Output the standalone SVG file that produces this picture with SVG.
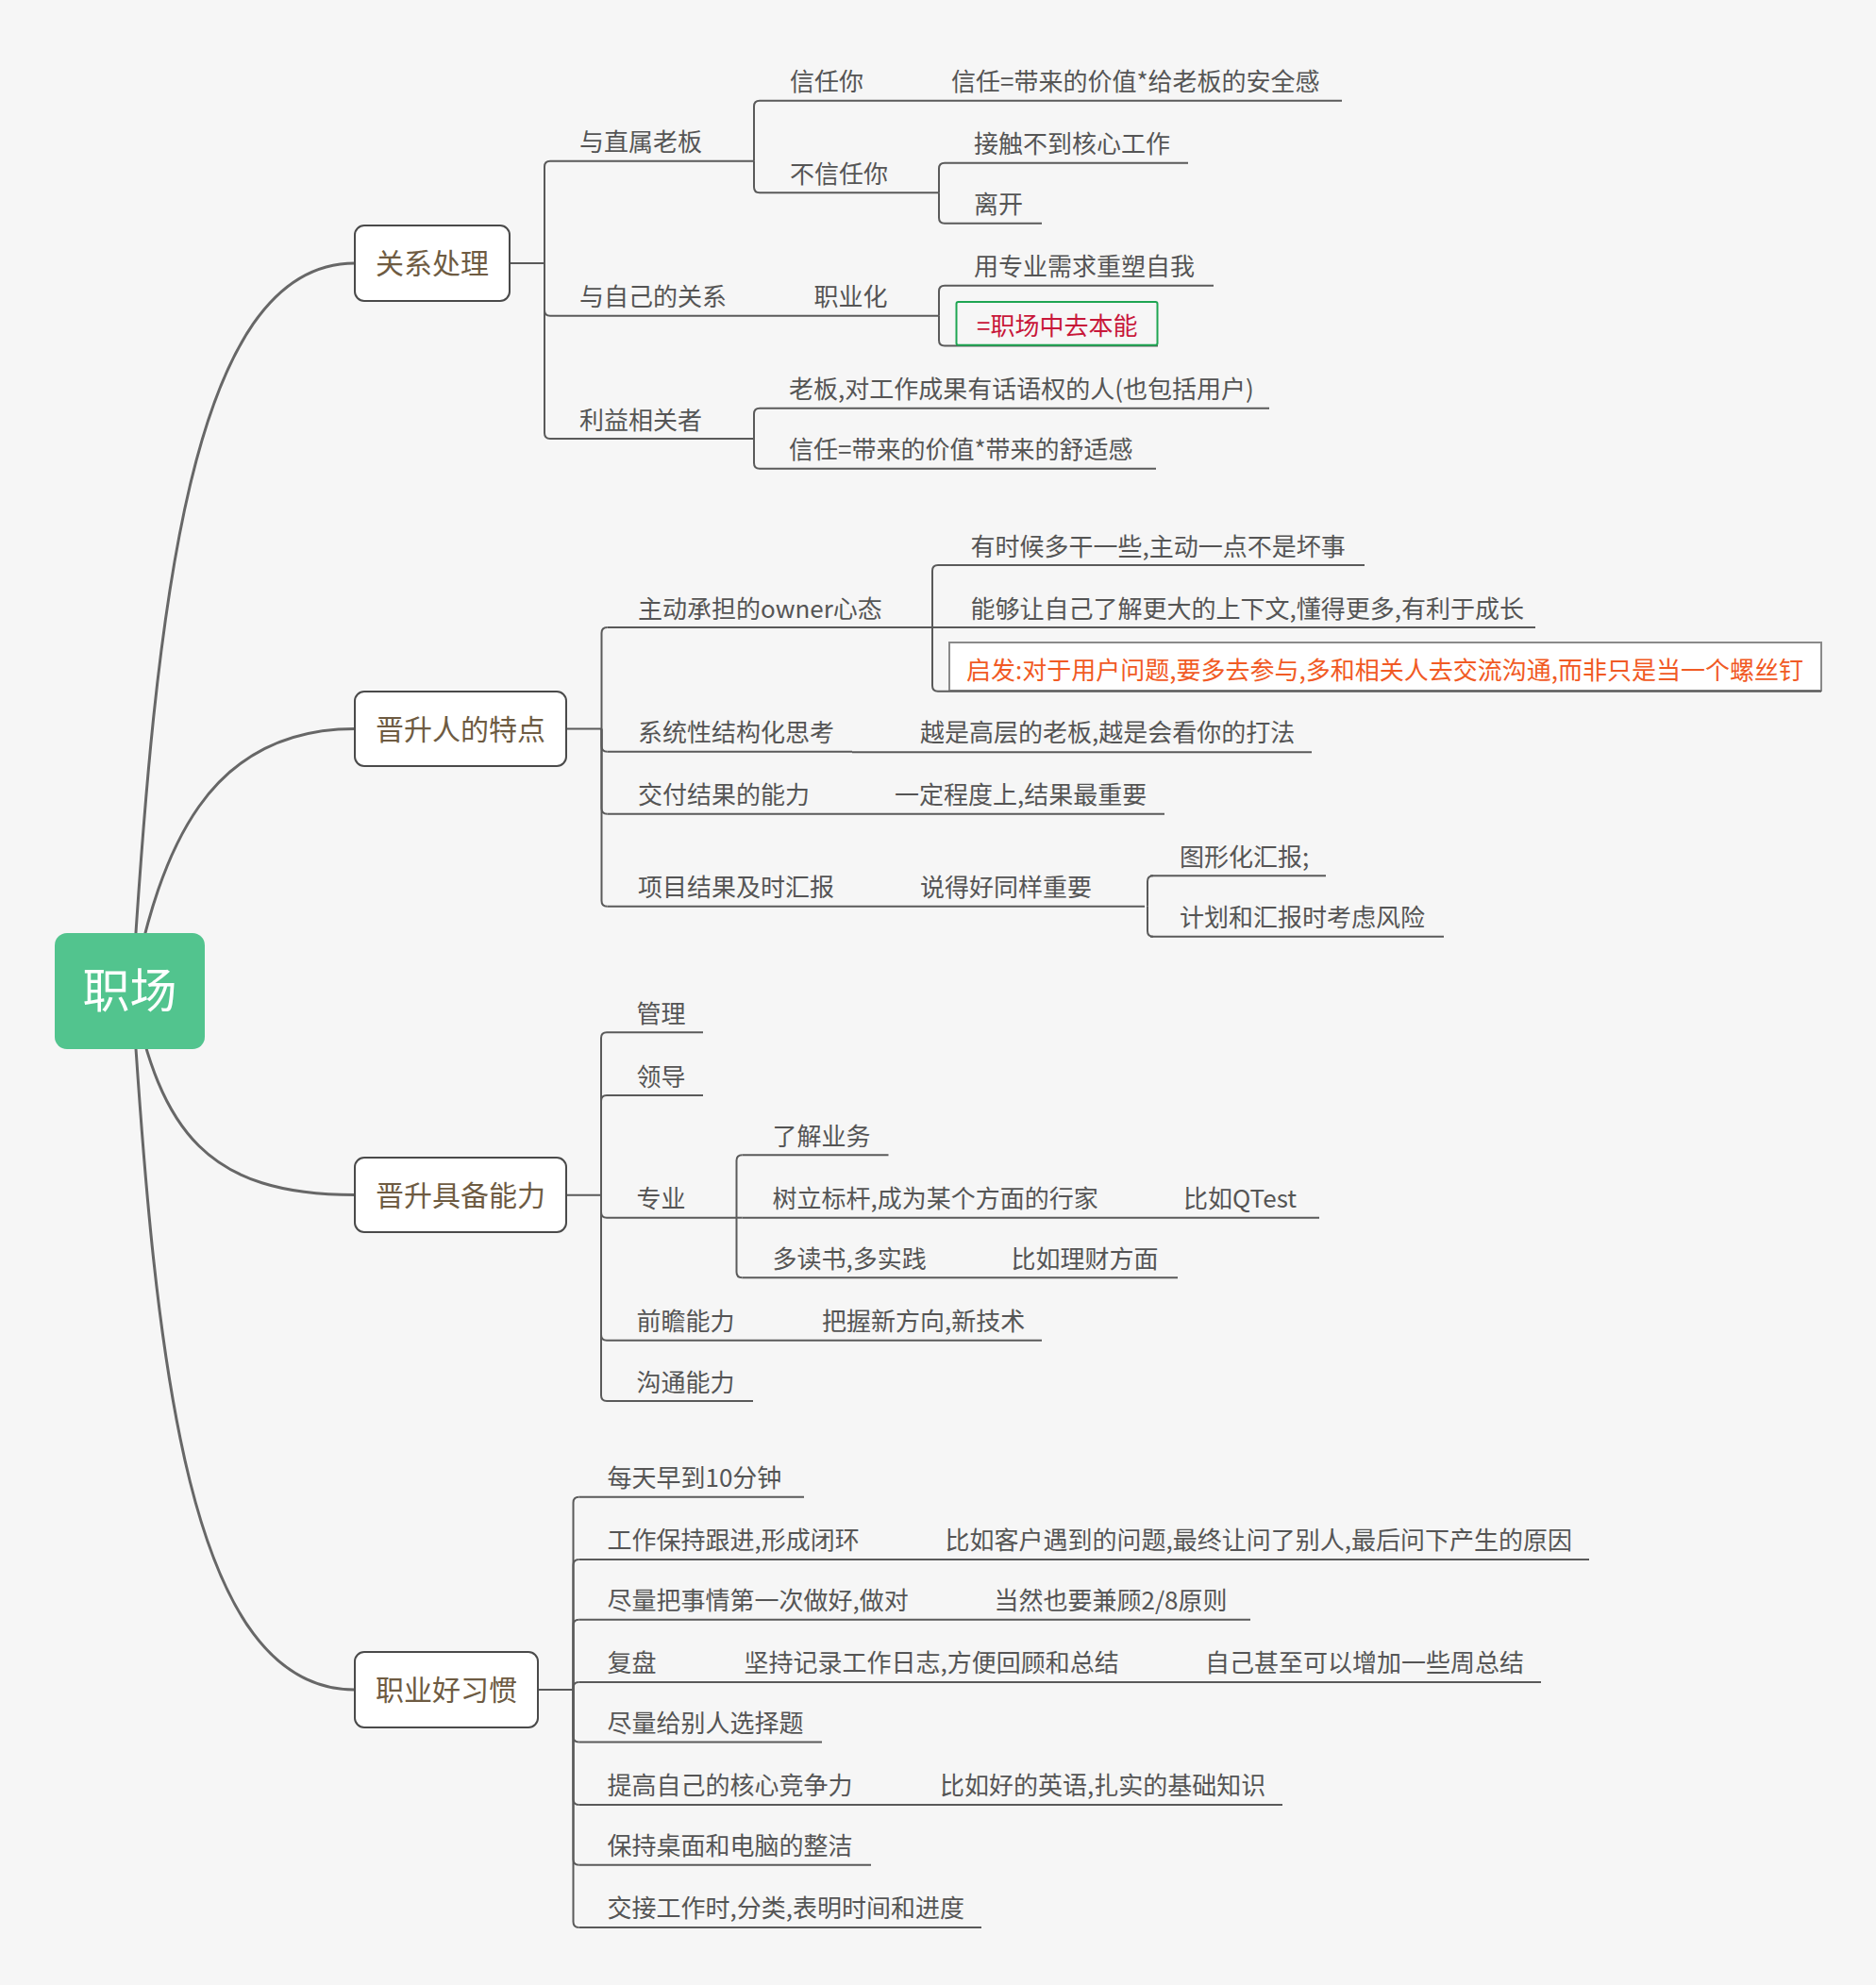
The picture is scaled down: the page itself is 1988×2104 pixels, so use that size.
<svg xmlns="http://www.w3.org/2000/svg" width="1988" height="2104" viewBox="0 0 1988 2104">
<style>
.t{font-family:"Noto Sans CJK SC","Liberation Sans",sans-serif;font-size:26px;fill:#555555}
.l1{font-family:"Noto Sans CJK SC","Liberation Sans",sans-serif;font-size:30px;fill:#6E5B42;text-anchor:middle}
.root{font-family:"Noto Sans CJK SC","Liberation Sans",sans-serif;font-size:50px;fill:#ffffff;text-anchor:middle}
.ul{stroke:#5a5a5a;stroke-width:2;fill:none}
.cn{stroke:#5a5a5a;stroke-width:2;fill:none}
.main{stroke:#676767;stroke-width:3;fill:none}
.box1{fill:#ffffff;stroke:#4a4a4a;stroke-width:2}
</style>
<rect x="0" y="0" width="1988" height="2104" fill="#F6F6F6"/>

<g id="connectors">
  <path class="main" d="M140,1050 C165,650 200,279 376,279"/>
  <path class="main" d="M140,1050 C170,900 220,772.5 376,772.5"/>
  <path class="main" d="M140,1050 C170,1200 220,1266.5 376,1266.5"/>
  <path class="main" d="M140,1050 C165,1450 200,1791 376,1791"/>

  <!-- B1 -->
  <path class="cn" d="M540,279 H577"/>
  <path class="cn" d="M577,279 V176.7 Q577,170.7 583,170.7"/>
  <path class="cn" d="M577,279 V328.7 Q577,334.7 583,334.7"/>
  <path class="cn" d="M577,279 V459 Q577,465 583,465"/>
  <path class="cn" d="M799,170.7 V112.7 Q799,106.7 805,106.7"/>
  <path class="cn" d="M799,170.7 V198.3 Q799,204.3 805,204.3"/>
  <path class="cn" d="M995,204.3 V178.7 Q995,172.7 1001,172.7"/>
  <path class="cn" d="M995,204.3 V230.7 Q995,236.7 1001,236.7"/>
  <path class="cn" d="M995,334.7 V308.7 Q995,302.7 1001,302.7"/>
  <path class="cn" d="M995,334.7 V360.5 Q995,366.5 1001,366.5"/>
  <path class="cn" d="M799,465 V438.7 Q799,432.7 805,432.7"/>
  <path class="cn" d="M799,465 V490.7 Q799,496.7 805,496.7"/>

  <!-- B2 -->
  <path class="cn" d="M600,772.5 H637.5"/>
  <path class="cn" d="M637.5,772.5 V671 Q637.5,665 643.5,665"/>
  <path class="cn" d="M637.5,772.5 V790.7 Q637.5,796.7 643.5,796.7"/>
  <path class="cn" d="M637.5,772.5 V856.7 Q637.5,862.7 643.5,862.7"/>
  <path class="cn" d="M637.5,772.5 V954.7 Q637.5,960.7 643.5,960.7"/>
  <path class="cn" d="M988,665 V605 Q988,599 994,599"/>
  <path class="cn" d="M988,665 H994"/>
  <path class="cn" d="M988,665 V726.7 Q988,732.7 994,732.7"/>
  <path class="cn" d="M1216,960.7 V934.3 Q1216,928.3 1222,928.3"/>
  <path class="cn" d="M1216,960.7 V986.7 Q1216,992.7 1222,992.7"/>

  <!-- B3 -->
  <path class="cn" d="M600,1266.7 H637"/>
  <path class="cn" d="M637,1266.7 V1100.3 Q637,1094.3 643,1094.3"/>
  <path class="cn" d="M637,1266.7 V1167 Q637,1161 643,1161"/>
  <path class="cn" d="M637,1266.7 V1284.7 Q637,1290.7 643,1290.7"/>
  <path class="cn" d="M637,1266.7 V1414.7 Q637,1420.7 643,1420.7"/>
  <path class="cn" d="M637,1266.7 V1479 Q637,1485 643,1485"/>
  <path class="cn" d="M780.5,1290.7 V1230.3 Q780.5,1224.3 786.5,1224.3"/>
  <path class="cn" d="M780.5,1290.7 H786.5"/>
  <path class="cn" d="M780.5,1290.7 V1348.3 Q780.5,1354.3 786.5,1354.3"/>

  <!-- B4 -->
  <path class="cn" d="M570,1791 H607.5"/>
  <path class="cn" d="M607.5,1791 V1592.8 Q607.5,1586.8 613.5,1586.8"/>
  <path class="cn" d="M607.5,1791 V1658.9 Q607.5,1652.9 613.5,1652.9"/>
  <path class="cn" d="M607.5,1791 V1722.8 Q607.5,1716.8 613.5,1716.8"/>
  <path class="cn" d="M607.5,1791 V1788.9 Q607.5,1782.9 613.5,1782.9"/>
  <path class="cn" d="M607.5,1791 V1840.4 Q607.5,1846.4 613.5,1846.4"/>
  <path class="cn" d="M607.5,1791 V1906.9 Q607.5,1912.9 613.5,1912.9"/>
  <path class="cn" d="M607.5,1791 V1970.8 Q607.5,1976.8 613.5,1976.8"/>
  <path class="cn" d="M607.5,1791 V2036.9 Q607.5,2042.9 613.5,2042.9"/>
</g>

<g id="n-root">
  <rect x="58" y="989" width="159" height="123" rx="13" fill="#52C48E"/>
  <text class="root" x="137.5" y="1068">职场</text>
</g>

<!-- Level 1 -->
<g id="n1">
  <rect class="box1" x="376" y="239" width="164" height="80" rx="10"/>
  <text class="l1" x="458" y="290">关系处理</text>
</g>
<g id="n2">
  <rect class="box1" x="376" y="733" width="224" height="79" rx="10"/>
  <text class="l1" x="488" y="783.5">晋升人的特点</text>
</g>
<g id="n3">
  <rect class="box1" x="376" y="1227" width="224" height="79" rx="10"/>
  <text class="l1" x="488" y="1277.5">晋升具备能力</text>
</g>
<g id="n4">
  <rect class="box1" x="376" y="1751" width="194" height="80" rx="10"/>
  <text class="l1" x="473" y="1802">职业好习惯</text>
</g>

<!-- Branch 1 -->
<g id="n1-1"><path class="ul" d="M583,170.7 H799"/><text class="t" x="614" y="160.2">与直属老板</text></g>
<g id="n1-1-1"><path class="ul" d="M805,106.7 H990"/><text class="t" x="837" y="96.2">信任你</text></g>
<g id="n1-1-1-1"><path class="ul" d="M990,106.7 H1422"/><text class="t" x="1008" y="96.2">信任=带来的价值*给老板的安全感</text></g>
<g id="n1-1-2"><path class="ul" d="M805,204.3 H995"/><text class="t" x="837" y="193.8">不信任你</text></g>
<g id="n1-1-2-1"><path class="ul" d="M1001,172.7 H1259"/><text class="t" x="1032" y="162.2">接触不到核心工作</text></g>
<g id="n1-1-2-2"><path class="ul" d="M1001,236.7 H1104"/><text class="t" x="1032" y="226.2">离开</text></g>
<g id="n1-2"><path class="ul" d="M583,334.7 H820"/><text class="t" x="614" y="324.2">与自己的关系</text></g>
<g id="n1-2-1"><path class="ul" d="M820,334.7 H995"/><text class="t" x="862.5" y="324.2">职业化</text></g>
<g id="n1-2-1-1"><path class="ul" d="M1001,302.7 H1286"/><text class="t" x="1032" y="292.2">用专业需求重塑自我</text></g>
<g id="n1-2-1-2"><path class="ul" d="M1001,366.5 H1227"/><rect x="1013.5" y="320" width="213" height="45.7" rx="2" fill="#F6F6F6" stroke="#1EA552" stroke-width="2"/><text class="t" x="1035" y="355" style="fill:#C8173A">=职场中去本能</text></g>
<g id="n1-3"><path class="ul" d="M583,465 H799"/><text class="t" x="614" y="454.5">利益相关者</text></g>
<g id="n1-3-1"><path class="ul" d="M805,432.7 H1345"/><text class="t" x="836" y="422.2">老板,对工作成果有话语权的人(也包括用户)</text></g>
<g id="n1-3-2"><path class="ul" d="M805,496.7 H1225"/><text class="t" x="836" y="486.2">信任=带来的价值*带来的舒适感</text></g>

<!-- Branch 2 -->
<g id="n2-1"><path class="ul" d="M643.5,665 H988"/><text class="t" x="676" y="654.5">主动承担的owner心态</text></g>
<g id="n2-1-1"><path class="ul" d="M994,599 H1446"/><text class="t" x="1028.5" y="588.5">有时候多干一些,主动一点不是坏事</text></g>
<g id="n2-1-2"><path class="ul" d="M994,665 H1627"/><text class="t" x="1028.5" y="654.5">能够让自己了解更大的上下文,懂得更多,有利于成长</text></g>
<g id="n2-1-3"><rect x="1006" y="681" width="924" height="51" fill="#ffffff" stroke="#8a8a8a" stroke-width="2"/><path class="ul" d="M994,732.7 H1930"/><text class="t" x="1024" y="720" style="fill:#F15A24">启发:对于用户问题,要多去参与,多和相关人去交流沟通,而非只是当一个螺丝钉</text></g>
<g id="n2-2"><path class="ul" d="M643.5,796.7 H903"/><text class="t" x="676" y="786.2">系统性结构化思考</text></g>
<g id="n2-2-1"><path class="ul" d="M903,797.3 H1390"/><text class="t" x="975" y="786.2">越是高层的老板,越是会看你的打法</text></g>
<g id="n2-3"><path class="ul" d="M643.5,862.7 H905"/><text class="t" x="676" y="852.2">交付结果的能力</text></g>
<g id="n2-3-1"><path class="ul" d="M905,862.7 H1234"/><text class="t" x="948" y="852.2">一定程度上,结果最重要</text></g>
<g id="n2-4"><path class="ul" d="M643.5,960.7 H930"/><text class="t" x="676" y="950.2">项目结果及时汇报</text></g>
<g id="n2-4-1"><path class="ul" d="M930,960.7 H1213"/><text class="t" x="975" y="950.2">说得好同样重要</text></g>
<g id="n2-4-1-1"><path class="ul" d="M1219,928.3 H1405"/><text class="t" x="1250" y="917.8">图形化汇报;</text></g>
<g id="n2-4-1-2"><path class="ul" d="M1219,992.7 H1530"/><text class="t" x="1250" y="982.2">计划和汇报时考虑风险</text></g>

<!-- Branch 3 -->
<g id="n3-1"><path class="ul" d="M643,1094.3 H745"/><text class="t" x="674.5" y="1083.8">管理</text></g>
<g id="n3-2"><path class="ul" d="M643,1161 H745"/><text class="t" x="674.5" y="1150.5">领导</text></g>
<g id="n3-3"><path class="ul" d="M643,1290.7 H780.5"/><text class="t" x="674.5" y="1280.2">专业</text></g>
<g id="n3-3-1"><path class="ul" d="M786.5,1224.3 H941.5"/><text class="t" x="818.5" y="1213.8">了解业务</text></g>
<g id="n3-3-2"><path class="ul" d="M786.5,1290.7 H1210"/><text class="t" x="818.5" y="1280.2">树立标杆,成为某个方面的行家</text></g>
<g id="n3-3-2-1"><path class="ul" d="M1210,1290.7 H1398"/><text class="t" x="1254" y="1280.2">比如QTest</text></g>
<g id="n3-3-3"><path class="ul" d="M786.5,1354.3 H1030"/><text class="t" x="818.5" y="1343.8">多读书,多实践</text></g>
<g id="n3-3-3-1"><path class="ul" d="M1030,1354.3 H1248"/><text class="t" x="1071.5" y="1343.8">比如理财方面</text></g>
<g id="n3-4"><path class="ul" d="M643,1420.7 H825"/><text class="t" x="674.5" y="1410.2">前瞻能力</text></g>
<g id="n3-4-1"><path class="ul" d="M825,1420.7 H1104"/><text class="t" x="871" y="1410.2">把握新方向,新技术</text></g>
<g id="n3-5"><path class="ul" d="M643,1485 H798"/><text class="t" x="674.5" y="1474.5">沟通能力</text></g>

<!-- Branch 4 -->
<g id="n4-1"><path class="ul" d="M613.5,1586.8 H852"/><text class="t" x="643.5" y="1576.3">每天早到10分钟</text></g>
<g id="n4-2"><path class="ul" d="M613.5,1652.9 H955"/><text class="t" x="643.5" y="1642.4">工作保持跟进,形成闭环</text></g>
<g id="n4-2-1"><path class="ul" d="M955,1652.9 H1684"/><text class="t" x="1001.5" y="1642.4">比如客户遇到的问题,最终让问了别人,最后问下产生的原因</text></g>
<g id="n4-3"><path class="ul" d="M613.5,1716.8 H1010"/><text class="t" x="643.5" y="1706.3">尽量把事情第一次做好,做对</text></g>
<g id="n4-3-1"><path class="ul" d="M1010,1716.8 H1325"/><text class="t" x="1053.5" y="1706.3">当然也要兼顾2/8原则</text></g>
<g id="n4-4"><path class="ul" d="M613.5,1782.9 H740"/><text class="t" x="643.5" y="1772.4">复盘</text></g>
<g id="n4-4-1"><path class="ul" d="M740,1782.9 H1230"/><text class="t" x="788.5" y="1772.4">坚持记录工作日志,方便回顾和总结</text></g>
<g id="n4-4-1-1"><path class="ul" d="M1230,1782.9 H1633"/><text class="t" x="1277" y="1772.4">自己甚至可以增加一些周总结</text></g>
<g id="n4-5"><path class="ul" d="M613.5,1846.4 H871"/><text class="t" x="643.5" y="1835.9">尽量给别人选择题</text></g>
<g id="n4-6"><path class="ul" d="M613.5,1912.9 H950"/><text class="t" x="643.5" y="1902.4">提高自己的核心竞争力</text></g>
<g id="n4-6-1"><path class="ul" d="M950,1912.9 H1359"/><text class="t" x="996" y="1902.4">比如好的英语,扎实的基础知识</text></g>
<g id="n4-7"><path class="ul" d="M613.5,1976.8 H923"/><text class="t" x="643.5" y="1966.3">保持桌面和电脑的整洁</text></g>
<g id="n4-8"><path class="ul" d="M613.5,2042.9 H1040"/><text class="t" x="643.5" y="2032.4">交接工作时,分类,表明时间和进度</text></g>
</svg>
